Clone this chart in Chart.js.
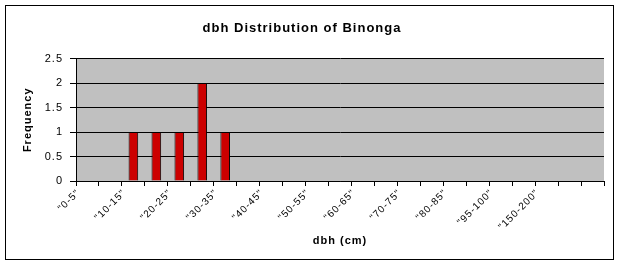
<!DOCTYPE html>
<html lang="en">
<head>
    <meta charset="UTF-8">
    <title>dbh Distribution of Binonga</title>
    <script src="https://cdn.jsdelivr.net/npm/chart.js"></script>
    <style>
        body { margin: 0; background: #fff; }
        .frame {
            position: absolute;
            left: 5px; top: 5px;
            width: 607px; height: 253px;
            border: 1px solid #000;
        }
        .chart-container {
            position: absolute;
            left: 0; top: 0;
            width: 625px; height: 267px;
        }
    </style>
</head>
<body>
    <div class="frame"></div>
    <div class="chart-container">
        <canvas id="dbhChart"></canvas>
    </div>

    <script>
        // dbh classes (cm), only every other one gets a label on the axis
        const categories = ['"0-5"', '"5-10"', '"10-15"', '"15-20"', '"20-25"', '"25-30"', '"30-35"',
            '"35-40"', '"40-45"', '"45-50"', '"50-55"', '"55-60"', '"60-65"', '"65-70"', '"70-75"',
            '"75-80"', '"80-85"', '"85-90"', '"95-100"', '"100-150"', '"150-200"', '"200-250"', '"250-300"'];
        const frequency = [0, 0, 1, 1, 1, 2, 1, 0, 0, 0, 0, 0, 0, 0, 0, 0, 0, 0, 0, 0, 0, 0, 0];
        const yMin = 0;
        const yMax = 2.5;
        const yStep = 0.5;
        const lastLabelled = 20; // Excel left the last couple of classes unlabelled

        const fontFamily = 'Arial, "Liberation Sans", sans-serif';

        // grey plot area + Excel-like letter spacing
        const excelLook = {
            id: 'excelLook',
            beforeUpdate(chart) { chart.ctx.letterSpacing = '1px'; },
            beforeDraw(chart) {
                const ctx = chart.ctx;
                const a = chart.chartArea;
                ctx.letterSpacing = '1px';
                ctx.save();
                ctx.fillStyle = '#C0C0C0';
                ctx.fillRect(a.left, a.top, a.right - a.left, a.bottom - a.top);
                ctx.restore();
            }
        };

        const ctx = document.getElementById('dbhChart').getContext('2d');
        new Chart(ctx, {
            type: 'bar',
            data: {
                labels: categories,
                datasets: [{
                    label: 'Frequency',
                    data: frequency,
                    backgroundColor: '#CC0000',
                    borderColor: '#000000',
                    borderWidth: 1,
                    barPercentage: 0.42,
                    categoryPercentage: 1.0
                }]
            },
            options: {
                responsive: true,
                maintainAspectRatio: false,
                animation: false,
                layout: { padding: { left: 0, right: 21, top: 0, bottom: 0 } },
                plugins: {
                    legend: { display: false },
                    tooltip: { enabled: false },
                    title: {
                        display: true,
                        text: 'dbh Distribution of Binonga',
                        color: '#000',
                        font: { family: fontFamily, size: 13, weight: 'bold' },
                        padding: { top: 21, bottom: 22 }
                    }
                },
                scales: {
                    x: {
                        grid: {
                            offset: true,
                            drawOnChartArea: false,
                            drawTicks: true,
                            tickLength: 5,
                            tickColor: '#000'
                        },
                        border: { color: '#000', width: 1 },
                        ticks: {
                            autoSkip: false,
                            maxRotation: 45,
                            minRotation: 45,
                            labelOffset: -9,
                            padding: 1,
                            color: '#000',
                            font: { family: fontFamily, size: 10 },
                            callback: function(value, index) {
                                if (index % 2 !== 0 || index > lastLabelled) return '';
                                return this.getLabelForValue(value);
                            }
                        },
                        title: {
                            display: true,
                            text: 'dbh (cm)',
                            color: '#000',
                            font: { family: fontFamily, size: 11, weight: 'bold' },
                            padding: { top: 0, bottom: 19 }
                        },
                        afterFit: function(scale) { scale.height = 86; }
                    },
                    y: {
                        min: yMin,
                        max: yMax,
                        grid: {
                            color: '#000',
                            lineWidth: 1,
                            drawTicks: true,
                            tickLength: 6,
                            tickColor: '#000'
                        },
                        border: { color: '#000', width: 1 },
                        ticks: {
                            stepSize: yStep,
                            padding: 7,
                            color: '#000',
                            font: { family: fontFamily, size: 11 },
                            callback: function(value) { return String(value); }
                        },
                        title: {
                            display: true,
                            text: 'Frequency',
                            color: '#000',
                            font: { family: fontFamily, size: 11, weight: 'bold' },
                            padding: { top: 21, bottom: 0 }
                        },
                        afterFit: function(scale) { scale.width = 76; }
                    }
                }
            },
            plugins: [excelLook]
        });
    </script>
</body>
</html>
